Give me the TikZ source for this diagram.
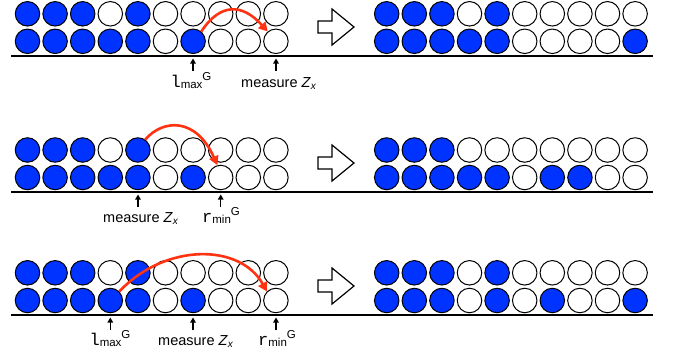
\documentclass[tikz,border=0pt]{standalone}
\usepackage{fontspec}
\setmainfont{Liberation Sans}
\setmonofont{Liberation Mono}
\usetikzlibrary{arrows.meta}
\definecolor{qblue}{RGB}{0,51,255}
\definecolor{qred}{RGB}{255,51,17}
\tikzset{
  qb/.style={circle, draw=black, line width=1pt, minimum size=24.5pt, inner sep=0pt},
  qf/.style={qb, fill=qblue},
  qe/.style={qb, fill=white},
  baseline rule/.style={line width=1.6pt},
  jump/.style={draw=qred, line width=2.6pt, -{Triangle[length=9pt,width=9.5pt]}},
  marker/.style={line width=1.3pt, -{Triangle[length=5pt,width=5.5pt]}},
  lab/.style={font=\fontsize{14.5}{16}\selectfont, inner sep=0pt},
  bigarrow/.style={draw=black, line width=1.2pt, fill=white, line join=miter},
}
\newcommand{\qrow}[4]{%
  \foreach \s [count=\i] in {#4} {\node[\s] (#1-\i) at ({#2+(\i-1)*27.6}, #3) {};}}
\newcommand{\smallsf}{\fontsize{11.5}{12}\selectfont}
\newcommand{\bigtt}{\fontsize{17}{17}\selectfont\ttfamily}
\newcommand{\lmaxG}{{\bigtt l}\raisebox{-1.7pt}{\smallsf max}\raisebox{6.7pt}{\smallsf G}}
\newcommand{\rminG}{{\bigtt r}\raisebox{-1.7pt}{\smallsf min}\raisebox{6.7pt}{\smallsf G}}
\newcommand{\measZ}{measure \textit{Z}\raisebox{-2pt}{\fontsize{10}{11}\selectfont\itshape x}}
\newcommand{\hollowarrow}[2]{%
  \draw[bigarrow] (318,#1-6) -- (332,#1-6) -- (332,#1-18) -- (354,#1)
    -- (332,#1+18) -- (332,#1+6) -- (318,#1+6) -- cycle;}
\begin{document}
\begin{tikzpicture}[x=1pt,y=-1pt]
\useasboundingbox (0,0) rectangle (676,356);

% ---------- Panel 1 ----------
\coordinate (b1w) at (11,56);
\coordinate (b1e) at (653,56);
\draw[baseline rule] (b1w) -- (b1e);
\qrow{p1Lt}{27.5}{13.8}{qf,qf,qf,qe,qf,qe,qe,qe,qe,qe}
\qrow{p1Lb}{27.5}{41.3}{qf,qf,qf,qf,qf,qe,qf,qe,qe,qe}
\qrow{p1Rt}{386.7}{13.8}{qf,qf,qf,qe,qf,qe,qe,qe,qe,qe}
\qrow{p1Rb}{386.7}{41.3}{qf,qf,qf,qf,qf,qe,qe,qe,qe,qf}
\hollowarrow{27}{}
\draw[jump] (p1Lb-7.50) .. controls (220,3) and (242,3) .. (p1Lb-10.130);
\coordinate (m1a) at (193,58.5); \coordinate (m1as) at (193,71);
\coordinate (m1b) at (276,58.5); \coordinate (m1bs) at (276,71);
\draw[marker] (m1as) -- (m1a);
\draw[marker] (m1bs) -- (m1b);
\node[lab, anchor=base] (l1a) at (191,87) {\lmaxG};
\node[lab, anchor=base west] (l1b) at (241,87) {\measZ};

% ---------- Panel 2 ----------
\coordinate (b2w) at (11,191.7);
\coordinate (b2e) at (653,191.7);
\draw[baseline rule] (b2w) -- (b2e);
\qrow{p2Lt}{27.5}{150}{qf,qf,qf,qe,qf,qe,qe,qe,qe,qe}
\qrow{p2Lb}{27.5}{177.5}{qf,qf,qf,qf,qf,qe,qf,qe,qe,qe}
\qrow{p2Rt}{386.7}{150}{qf,qf,qf,qe,qe,qe,qe,qe,qe,qe}
\qrow{p2Rb}{386.7}{177.5}{qf,qf,qf,qf,qf,qe,qf,qf,qe,qe}
\hollowarrow{163}{}
\draw[jump] (p2Lt-5.55) .. controls (163,119) and (196,117) .. (p2Lb-8.105);
\coordinate (m2a) at (138,194.5); \coordinate (m2as) at (138,207);
\coordinate (m2b) at (220.7,194.5); \coordinate (m2bs) at (220.7,207);
\draw[marker] (m2as) -- (m2a);
\draw[marker] (m2bs) -- (m2b);
\node[lab, anchor=base west] (l2a) at (103,222) {\measZ};
\node[lab, anchor=base] (l2b) at (221,222) {\rminG};

% ---------- Panel 3 ----------
\coordinate (b3w) at (11,315);
\coordinate (b3e) at (653,315);
\draw[baseline rule] (b3w) -- (b3e);
\qrow{p3Lt}{27.5}{272.8}{qf,qf,qf,qe,qf,qe,qe,qe,qe,qe}
\qrow{p3Lb}{27.5}{300.5}{qf,qf,qf,qf,qf,qe,qf,qe,qe,qe}
\qrow{p3Rt}{386.7}{272.8}{qf,qf,qf,qe,qf,qe,qe,qe,qe,qe}
\qrow{p3Rb}{386.7}{300.5}{qf,qf,qf,qe,qf,qe,qf,qe,qe,qf}
\hollowarrow{286}{}
\draw[jump] (p3Lb-4.45) .. controls (165,243) and (240,243) .. (p3Lb-10.135);
\coordinate (m3a) at (110.3,317.5); \coordinate (m3as) at (110.3,330);
\coordinate (m3b) at (193,317.5); \coordinate (m3bs) at (193,330);
\coordinate (m3c) at (276,317.5); \coordinate (m3cs) at (276,330);
\draw[marker] (m3as) -- (m3a);
\draw[marker] (m3bs) -- (m3b);
\draw[marker] (m3cs) -- (m3c);
\node[lab, anchor=base] (l3a) at (110,345) {\lmaxG};
\node[lab, anchor=base west] (l3b) at (158,345) {\measZ};
\node[lab, anchor=base] (l3c) at (277,345) {\rminG};
\end{tikzpicture}
\end{document}
